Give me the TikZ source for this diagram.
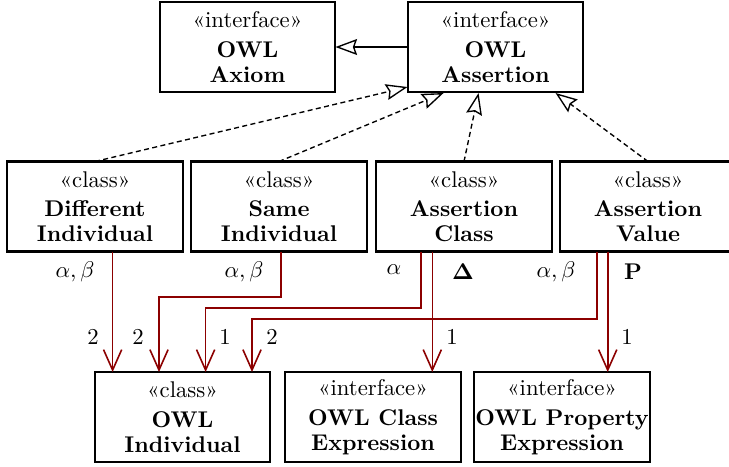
\documentclass[tikz,border=0pt]{standalone}
\usetikzlibrary{arrows.meta,calc}
\definecolor{conred}{RGB}{140,0,0}
\begin{document}
\begin{tikzpicture}[x=0.44pt,y=-0.44pt,
  box/.style={draw, line width=0.9pt, minimum width=77.4pt, minimum height=39.6pt,
    inner sep=0pt, outer sep=0pt, align=center, font=\fontsize{10}{11}\selectfont},
  gen/.style={-{Stealth[open,length=9.5pt,width=7pt,inset=1.2pt]}, line width=0.6pt},
  real/.style={gen, dash pattern=on 2.2pt off 1.5pt},
  assoc/.style={-{Straight Barb[length=9pt,width=8pt]}, draw=conred, line width=0.7pt},
  lab/.style={font=\fontsize{10}{11}\selectfont, inner sep=0pt}]
\useasboundingbox (0,0) rectangle (729,466);

% boxes
\node[box] (axiom) at (247.5,47) {«interface»\\[2pt]\textbf{OWL}\\\textbf{Axiom}};
\node[box] (assertion) at (495.5,47) {«interface»\\[2pt]\textbf{OWL}\\\textbf{Assertion}};
\node[box] (diff) at (95,206.5) {«class»\\[2pt]\textbf{Different}\\\textbf{Individual}};
\node[box] (same) at (279,206.5) {«class»\\[2pt]\textbf{Same}\\\textbf{Individual}};
\node[box] (aclass) at (464,206.5) {«class»\\[2pt]\textbf{Assertion}\\\textbf{Class}};
\node[box] (avalue) at (648,206.5) {«class»\\[2pt]\textbf{Assertion}\\\textbf{Value}};
\node[box] (indiv) at (182.5,417) {«class»\\[2pt]\textbf{OWL}\\\textbf{Individual}};
\node[box] (cexpr) at (373,417) {«interface»\\[2pt]\textbf{OWL Class}\\\textbf{Expression}};
\node[box] (pexpr) at (562,417) {«interface»\\[2pt]\textbf{OWL Property}\\\textbf{Expression}};

% generalisation / realisation
\draw[gen] (assertion.west) -- (axiom.east);
\coordinate (t1) at ($(assertion.south west)+(0,-5)$);
\coordinate (t2) at ($(assertion.south west)+(36,1)$);
\coordinate (t3) at ($(assertion.south west)+(71,1)$);
\coordinate (t4) at ($(assertion.south west)+(148,1)$);
\draw[real] (diff.north) -- (t1);
\draw[real] (same.north) -- (t2);
\draw[real] (aclass.north) -- (t3);
\draw[real] (avalue.north) -- (t4);

% associations
\coordinate (d1) at ($(diff.south)+(17.6,0)$);
\coordinate (s1) at ($(same.south)+(2,0)$);
\coordinate (c1) at ($(aclass.south)+(-43,0)$);
\coordinate (c2) at ($(aclass.south)+(-31.7,0)$);
\coordinate (v1) at ($(avalue.south)+(-51,0)$);
\coordinate (v2) at ($(avalue.south)+(-40.3,0)$);
\coordinate (h1) at ($(indiv.north)+(-23.5,-75)$);
\coordinate (h2) at ($(indiv.north)+(23.1,-64)$);
\coordinate (h3) at ($(indiv.north)+(69.5,-53)$);
\draw[assoc] (d1) -- (d1 |- indiv.north);
\draw[assoc] (s1) |- (h1) -- (h1 |- indiv.north);
\draw[assoc] (c1) |- (h2) -- (h2 |- indiv.north);
\draw[assoc] (v1) |- (h3) -- (h3 |- indiv.north);
\draw[assoc] (c2) -- (c2 |- cexpr.north);
\draw[assoc] (v2) -- (v2 |- pexpr.north);

% role labels
\node[lab] (r1) at (75,272) {$\alpha,\beta$};
\node[lab] (r2) at (244,272) {$\alpha,\beta$};
\node[lab] (r3) at (394,270) {$\alpha$};
\node[lab] (r4) at (463,272) {$\mathbf{\Delta}$};
\node[lab] (r5) at (556,272) {$\alpha,\beta$};
\node[lab] (r6) at (633,272) {$\mathbf{P}$};

% multiplicities
\node[lab] (m1) at (93,337) {2};
\node[lab] (m2) at (138,337) {2};
\node[lab] (m3) at (225,337) {1};
\node[lab] (m4) at (272,337) {2};
\node[lab] (m5) at (452,337) {1};
\node[lab] (m6) at (627,337) {1};
\end{tikzpicture}
\end{document}
